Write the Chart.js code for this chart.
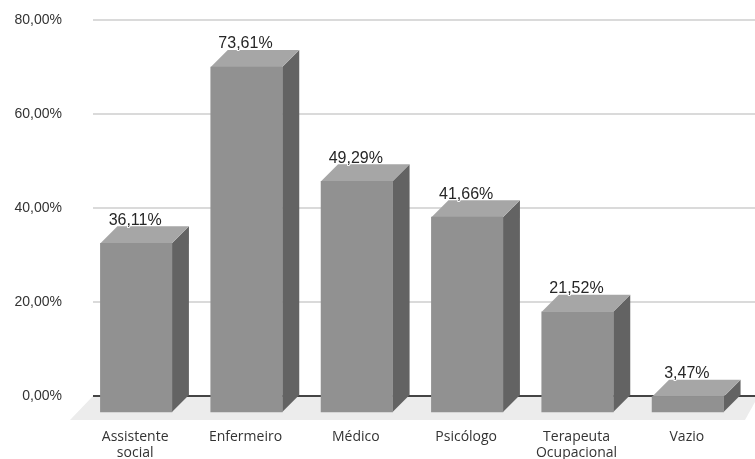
<!DOCTYPE html>
<html lang="pt">
<head>
    <meta charset="UTF-8">
    <title>Profissionais</title>
    <script src="https://cdn.jsdelivr.net/npm/chart.js"></script>
    <style>
        html, body { margin: 0; padding: 0; background: #ffffff; }
        .chart-box { width: 755px; height: 459px; position: relative; }
    </style>
</head>
<body>
    <div class="chart-box"><canvas id="chart"></canvas></div>
    <script>
        const categories = [['Assistente', 'social'], 'Enfermeiro', 'Médico', 'Psicólogo', ['Terapeuta', 'Ocupacional'], 'Vazio'];
        const percentages = [36.11, 73.61, 49.29, 41.66, 21.52, 3.47];
        const yTicks = [0, 20, 40, 60, 80];

        // the front of each bar sits down-left of the back wall where the grid is
        const depth = 17;
        const shiftX = -12;

        function fmt(v) {
            return v.toFixed(2).replace('.', ',') + '%';
        }

        function poly(ctx, color, pts) {
            ctx.fillStyle = color;
            ctx.beginPath();
            pts.forEach((p, i) => i ? ctx.lineTo(p[0], p[1]) : ctx.moveTo(p[0], p[1]));
            ctx.closePath();
            ctx.fill();
        }

        const bars3d = {
            id: 'bars3d',
            beforeDatasetsDraw(chart) {
                const ctx = chart.ctx;
                const a = chart.chartArea;
                // floor
                poly(ctx, '#ececec', [
                    [a.left, a.bottom], [a.right, a.bottom], [a.right, a.bottom + 6],
                    [a.right - 10, a.bottom + 24], [a.left - 23, a.bottom + 24]
                ]);
                // the zero line goes over the floor, but under the bars
                const y0 = chart.scales.y.getPixelForValue(0);
                ctx.fillStyle = '#444444';
                ctx.fillRect(a.left, y0 - 1, a.right - a.left, 2);

                chart.getDatasetMeta(0).data.forEach(bar => {
                    const right = bar.x + shiftX + bar.width / 2;
                    const left = bar.x + shiftX - bar.width / 2;
                    const top = bar.y + depth;
                    const bottom = bar.base + depth;
                    poly(ctx, '#636363', [[right, top], [right + depth, bar.y], [right + depth, bar.base], [right, bottom]]);
                    poly(ctx, '#a6a6a6', [[left, top], [left + depth, bar.y], [right + depth, bar.y], [right, top]]);
                });
                ctx.save();
                ctx.translate(shiftX, depth);
            },
            afterDatasetsDraw(chart) {
                const ctx = chart.ctx;
                ctx.restore();
                ctx.font = '16px "Liberation Sans", Arial, sans-serif';
                ctx.textAlign = 'center';
                ctx.textBaseline = 'middle';
                ctx.lineJoin = 'round';
                chart.getDatasetMeta(0).data.forEach((bar, i) => {
                    const x = bar.x + shiftX - 1;
                    const y = bar.y - 6;
                    ctx.strokeStyle = '#ffffff';
                    ctx.lineWidth = 2;
                    ctx.strokeText(fmt(percentages[i]), x, y);
                    ctx.fillStyle = '#262626';
                    ctx.fillText(fmt(percentages[i]), x, y);
                });
            }
        };

        new Chart(document.getElementById('chart'), {
            type: 'bar',
            data: {
                labels: categories,
                datasets: [{
                    data: percentages,
                    backgroundColor: '#919191',
                    barThickness: 71.5
                }]
            },
            options: {
                responsive: true,
                maintainAspectRatio: false,
                animation: false,
                layout: { padding: { top: 20, left: 0, right: 0, bottom: 0 } },
                plugins: {
                    legend: { display: false },
                    tooltip: { enabled: false }
                },
                scales: {
                    x: {
                        grid: { display: false },
                        border: { display: false },
                        afterFit(scale) {
                            scale.height = 63;
                            scale.paddingTop = 0;
                        },
                        ticks: {
                            color: '#333333',
                            font: { family: '"Open Sans", sans-serif', size: 14, lineHeight: 1.15 },
                            padding: 25,
                            labelOffset: shiftX - 1,
                            maxRotation: 0,
                            autoSkip: false
                        }
                    },
                    y: {
                        min: 0,
                        max: 80,
                        afterFit(scale) {
                            scale.width = 93;
                            scale.paddingTop = 0;
                        },
                        afterBuildTicks(scale) { scale.ticks = yTicks.map(v => ({ value: v })); },
                        border: { display: false },
                        grid: {
                            color: '#dadada',
                            lineWidth: 2,
                            drawTicks: false
                        },
                        ticks: {
                            color: '#333333',
                            font: { family: '"Liberation Sans", Arial, sans-serif', size: 14 },
                            padding: 31,
                            callback: v => fmt(v)
                        }
                    }
                }
            },
            plugins: [bars3d]
        });
    </script>
</body>
</html>
